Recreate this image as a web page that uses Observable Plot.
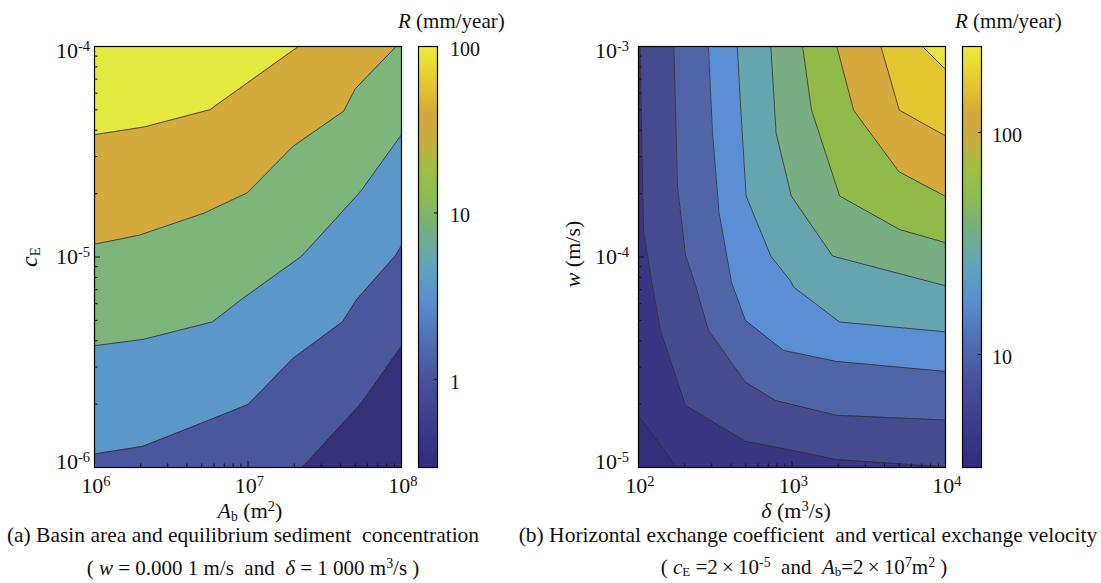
<!DOCTYPE html>
<html><head><meta charset="utf-8">
<script src="https://cdn.jsdelivr.net/npm/d3@7"></script>
<script src="https://cdn.jsdelivr.net/npm/@observablehq/plot@0.6"></script>
<style>
html,body{margin:0;padding:0;background:#fff;}
#root{position:relative;width:1101px;height:583px;overflow:hidden;font-family:"Liberation Serif","Times New Roman",serif;color:#111;background:#fff;}
#root svg{position:absolute;top:0;overflow:visible;}
.t{position:absolute;white-space:pre;line-height:1;}
.t sup{font-size:0.66em;vertical-align:0.5em;line-height:0;}
.t sub{font-size:0.62em;vertical-align:-0.2em;line-height:0;}
</style></head><body><div id="root"></div>
<script>
// ---------- Panel (a): basin area Ab (m^2) vs equilibrium concentration cE ----------
const aAbDomain = [1e6, 1e8];
const aCEDomain = [1e-6, 1e-4];
const aXTicks = [1e6, 1e7, 1e8];
const aYTicks = [1e-6, 1e-5, 1e-4];
const aBarDomain = [0.296, 100];
const aBarTicks = [1, 10, 100];
// contour lines of R, [Ab, cE], lowest level first
const aLevel1 = [[1e6,1e-6],[2.26e7,1e-6],[5.41e7,2.0e-6],[1e8,3.76e-6]];
const aLevel2 = [[1e6,1.16e-6],[2.07e6,1.26e-6],[5.37e6,1.66e-6],[1.0e7,1.99e-6],[1.97e7,3.30e-6],[4.13e7,4.92e-6],[5.1e7,6.27e-6],[9.1e7,1.01e-5],[1e8,1.13e-5]];
const aLevel3 = [[1e6,3.79e-6],[2.07e6,4.06e-6],[5.88e6,4.92e-6],[9.1e6,6.3e-6],[2.24e7,1.01e-5],[5.1e7,1.95e-5],[5.53e7,2.09e-5],[1e8,3.81e-5]];
const aLevel4 = [[1e6,1.15e-5],[1.96e6,1.27e-5],[5.22e6,1.62e-5],[9.9e6,2.02e-5],[1.97e7,3.36e-5],[4.2e7,4.93e-5],[5.0e7,6.3e-5],[8.5e7,9.4e-5],[9.2e7,1e-4]];
const aLevel5 = [[1e6,3.81e-5],[2.12e6,4.15e-5],[5.65e6,5.01e-5],[2.13e7,1e-4]];

// ---------- Panel (b): horizontal exchange delta (m^3/s) vs vertical velocity w (m/s) ----------
const bDeltaDomain = [1e2, 1e4];
const bWDomain = [1e-5, 1e-3];
const bXTicks = [1e2, 1e3, 1e4];
const bYTicks = [1e-5, 1e-4, 1e-3];
const bBarDomain = [3.1, 243.6];
const bBarTicks = [10, 100];
// contour lines of R, [delta, w], lowest level first
const bLevel0 = [[100,1.77e-5],[178.7,1e-5],[1e4,1e-5]];
const bLevel1 = [[102.3,1e-3],[107.8,1.34e-4],[121.5,7.73e-5],[139.1,4.48e-5],[202.4,1.97e-5],[497.9,1.33e-5],[780.6,1.25e-5],[1949,1.09e-5],[1e4,1.005e-5]];
const bLevel2 = [[169.8,1e-3],[179.6,2.16e-4],[202.4,1.02e-4],[235.1,7.33e-5],[285.8,4.48e-5],[497.9,2.54e-5],[780.6,2.08e-5],[1949,1.77e-5],[1e4,1.68e-5]];
const bLevel3 = [[285.4,1e-3],[303.4,3.90e-4],[334.6,1.63e-4],[403.5,7.57e-5],[497.9,4.99e-5],[880.4,3.6e-5],[1949,3.19e-5],[1e4,2.86e-5]];
const bLevel4 = [[440.2,1e-3],[463.8,5.01e-4],[502.3,1.95e-4],[727.8,1.01e-4],[973.4,7.73e-5],[1027,7.19e-5],[2042,4.91e-5],[1e4,4.41e-5]];
const bLevel5 = [[727.8,1e-3],[787.6,3.88e-4],[989.5,1.95e-4],[1839,1.01e-4],[1e4,7.30e-5]];
const bLevel6 = [[1172,1e-3],[1338,5.01e-4],[2042,1.95e-4],[5023,1.35e-4],[1e4,1.17e-4]];
const bLevel7 = [[1958,1e-3],[2523,4.97e-4],[4977,2.54e-4],[1e4,1.94e-4]];
const bLevel8 = [[3795,1e-3],[4993,4.99e-4],[1e4,3.76e-4]];
const bLevel9 = [[7083,1e-3],[1e4,7.78e-4]];

// ---------- styling ----------
const aBandColors = ["#36307a","#4a58a0","#5c97c9","#7db57b","#d4aa3c","#e5e83f"];
const bBandColors = ["#352e78","#3b3683","#464b90","#4f65a8","#5a8fd4","#65a5b0","#79ae82","#91bb49","#d5a93c","#e3c530","#e7e73d"];
const barStops  = [0, .10, .22, .33, .40, .48, .56, .64, .72, .78, .84, .92, 1];
const barColors = ["#352a80","#3d3a8c","#4a55a2","#5277c0","#5a90d2","#62a4b8","#76ad86","#8cbb55","#a4bd40","#c8ad40","#d6a83a","#e4cc30","#e9ee3c"];
const parula = d3.scaleLinear(barStops, barColors).interpolate(d3.interpolateRgb);

const root = document.getElementById("root");

function minorTicks([lo, hi]) {
  const out = [];
  for (let e = Math.round(Math.log10(lo)); e < Math.round(Math.log10(hi)); e++)
    for (let m = 2; m <= 9; m++) out.push(m * Math.pow(10, e));
  return out;
}

function contourPanel({xDomain, yDomain, levels, colors, xMajor, yMajor}) {
  const marks = [Plot.frame({fill: colors[0], stroke: "none"})];
  levels.forEach((lv, i) => marks.push(
    Plot.areaY(lv, {x: d => d[0], y1: d => d[1], y2: yDomain[1], fill: colors[i + 1], clip: true})));
  levels.forEach(lv => marks.push(
    Plot.line(lv, {x: d => d[0], y: d => d[1], stroke: "#2e2e2e", strokeWidth: 0.8, clip: true})));
  marks.push(
    Plot.axisX({ticks: minorTicks(xDomain), tickSize: -3.5, tickFormat: () => "", label: null}),
    Plot.axisX({ticks: xMajor, tickSize: -6, tickFormat: () => "", label: null}),
    Plot.axisY({ticks: minorTicks(yDomain), tickSize: -3.5, tickFormat: () => "", label: null}),
    Plot.axisY({ticks: yMajor, tickSize: -6, tickFormat: () => "", label: null}),
    Plot.frame({stroke: "#000", strokeWidth: 1.2})
  );
  return Plot.plot({
    width: 411, height: 480, marginLeft: 94, marginRight: 10, marginTop: 46, marginBottom: 13,
    x: {type: "log", domain: xDomain}, y: {type: "log", domain: yDomain}, marks
  });
}

function colorBar(domain, ticks) {
  const ld = domain.map(Math.log10);
  return Plot.plot({
    width: 19, height: 480, marginLeft: 0, marginRight: 0, marginTop: 46, marginBottom: 13,
    x: {domain: [0, 1], axis: null},
    y: {domain: ld},
    color: {type: "linear", domain: ld, interpolate: t => parula(t)},
    marks: [
      Plot.raster({x1: 0, x2: 1, y1: ld[0], y2: ld[1], fill: (x, y) => y, pixelSize: 1}),
      Plot.axisY({anchor: "right", ticks: ticks.map(Math.log10), tickSize: -4, tickFormat: () => "", label: null}),
      Plot.frame({stroke: "#000", strokeWidth: 1.2})
    ]
  });
}

function place(svg, left) { svg.style.left = left + "px"; root.appendChild(svg); return svg; }

function label(html, x, y, {align = "center", size = 22, rotate = 0} = {}) {
  const el = document.createElement("div");
  el.className = "t";
  el.innerHTML = html;
  el.style.left = x + "px";
  el.style.top = y + "px";
  el.style.fontSize = size + "px";
  const tx = align === "center" ? "-50%" : align === "end" ? "-100%" : "0";
  el.style.transform = `translate(${tx}, -50%)` + (rotate ? ` rotate(${rotate}deg)` : "");
  root.appendChild(el);
}
const pow10 = v => `10<sup>${Math.round(Math.log10(v))}</sup>`;

// ---------- build ----------
const plotA = place(contourPanel({xDomain: aAbDomain, yDomain: aCEDomain,
  levels: [aLevel1, aLevel2, aLevel3, aLevel4, aLevel5], colors: aBandColors, xMajor: aXTicks, yMajor: aYTicks}), 0);
const plotB = place(contourPanel({xDomain: bDeltaDomain, yDomain: bWDomain,
  levels: [bLevel0, bLevel1, bLevel2, bLevel3, bLevel4, bLevel5, bLevel6, bLevel7, bLevel8, bLevel9], colors: bBandColors, xMajor: bXTicks, yMajor: bYTicks}), 544);
const barA = place(colorBar(aBarDomain, aBarTicks), 418);
const barB = place(colorBar(bBarDomain, bBarTicks), 962);

function tickLabels(plot, left, xTicks, yTicks, yPad) {
  const sx = plot.scale("x"), sy = plot.scale("y");
  xTicks.forEach(v => label(pow10(v), left + sx.apply(v) + 2, 486));
  yTicks.forEach((v, i) => {
    const dy = i === 0 ? -5 : i === yTicks.length - 1 ? 5 : 0;
    label(pow10(v), left + sx.apply(sx.domain[0]) - yPad, sy.apply(v) + dy, {align: "end"});
  });
}
tickLabels(plotA, 0, aXTicks, aYTicks, 4);
tickLabels(plotB, 544, bXTicks, bYTicks, 9);

function barLabels(bar, left, ticks) {
  const sy = bar.scale("y");
  ticks.forEach(v => label(String(v), left, sy.apply(Math.log10(v)) + 3, {align: "start", size: 20}));
}
barLabels(barA, 450, aBarTicks);
barLabels(barB, 992, bBarTicks);

label(`<i>R</i> (mm/year)`, 398, 21, {align: "start", size: 21});
label(`<i>R</i> (mm/year)`, 955, 21, {align: "start", size: 21});
label(`<i>A</i><sub>b</sub> (m<sup>2</sup>)`, 250, 511);
label(`<i>δ</i> (m<sup>3</sup>/s)`, 796, 511);
label(`<i>c</i><sub>E</sub>`, 29, 257, {rotate: -90, size: 24});
label(`<i>w</i> (m/s)`, 573, 254, {rotate: -90});
label(`(a) Basin area and equilibrium sediment  concentration`, 243, 536, {size: 21.5});
label(`( <i>w</i> = 0.000 1 m/s  and  <i>δ</i> = 1 000 m<sup>3</sup>/s )`, 253, 568, {size: 21});
label(`(b) Horizontal exchange coefficient  and vertical exchange velocity`, 808, 536, {size: 21.5});
label(`( <i>c</i><sub>E</sub> =2\u2009×\u200910<sup>-5</sup>  and  <i>A</i><sub>b</sub>=2\u2009×\u200910<sup>7</sup>m<sup>2</sup> )`, 804, 567, {size: 21});
</script></body></html>
